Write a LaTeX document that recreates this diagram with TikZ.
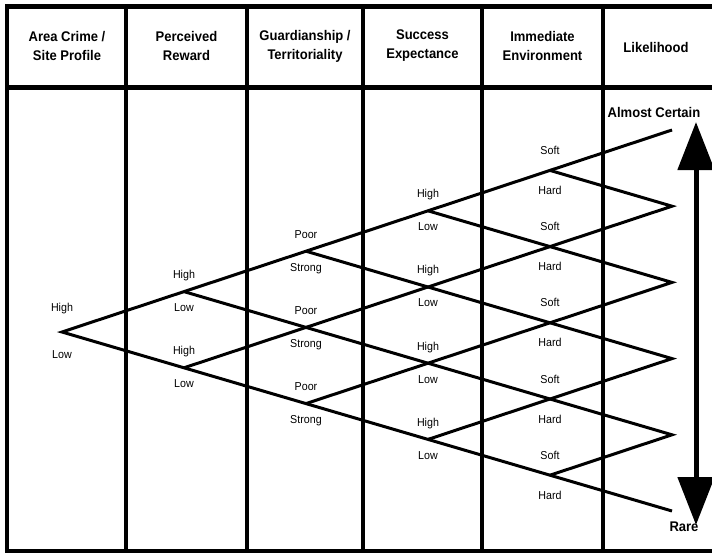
\documentclass[tikz,border=0pt]{standalone}
\usepackage{fontspec}
\setmainfont{Liberation Sans}[FakeStretch=0.93]
\usetikzlibrary{arrows.meta}

\begin{document}
\begin{tikzpicture}[x=1pt,y=-1pt]
        \def\hori{122}
        \def\vert{38.1}
        \def\drift{2.3}
        \tikzstyle{frame}=[line width=4.5pt]
        \tikzstyle{branch}=[line width=3pt]
        \tikzstyle{head}=[font=\fontsize{14}{19}\selectfont\bfseries, align=center, inner sep=0pt]
        \tikzstyle{lbl}=[font=\fontsize{11.5}{12}\selectfont, inner sep=0pt]
        \tikzstyle{pole}=[font=\fontsize{14}{16}\selectfont\bfseries, inner sep=0pt]

        \clip (0,0) rectangle (712,554);

        % Table
        \draw[frame] (7,6.5) rectangle (716,551);
        \draw[frame] (7,87.5) -- (716,87.5);
        \foreach \cx in {126,247,363,482,603}
            \draw[frame] (\cx,6.5) -- (\cx,551);

        % Headings
        \node[head] (area) at (67,46) {Area Crime /\\Site Profile};
        \node[head] (reward) at (186.5,46) {Perceived\\Reward};
        \node[head] (guard) at (305,46) {Guardianship /\\Territoriality};
        \node[head] (success) at (422.5,46) {Success\\Expectance};
        \node[head] (environ) at (542.5,46) {Immediate\\Environment};
        \node[head] (likely) at (656,47) {Likelihood};

        % Nodes
        \foreach \k in {0,...,5}
            \foreach \j in {0,...,\k}
                \coordinate (n-\k-\j) at ({62+\k*\hori}, {332-\k*\drift+(2*\j-\k)*\vert});

        % Edges
        \draw[branch] (n-5-0) -- (n-0-0) -- (n-5-5);
        \foreach \j in {1,...,4} {
            \pgfmathtruncatemacro\m{5-\j}
            \draw[branch] (n-\m-0) -- (n-5-\j) -- (n-\j-\j);
        }

        % Branch labels
        \foreach \k/\upname/\dnname/\off in {0/High/Low/23, 1/High/Low/16, 2/Poor/Strong/17, 3/High/Low/16, 4/Soft/Hard/20}
            \foreach \j in {0,...,\k} {
                \node[lbl, yshift=\off pt] (a-\k-\j) at (n-\k-\j) {\upname};
                \node[lbl, yshift=-\off pt] (b-\k-\j) at (n-\k-\j) {\dnname};
            }

        % Likelihood scale
        \node[pole] (certain) at (654,112) {Almost Certain};
        \node[pole] (rare) at (684,527) {Rare};
        \coordinate (certain-tip) at (696,122);
        \coordinate (rare-tip) at (696,525);
        \draw[line width=5pt, {Triangle[width=36pt,length=48pt]}-{Triangle[width=36pt,length=48pt]}] (rare-tip) -- (certain-tip);

    \end{tikzpicture}
\end{document}
